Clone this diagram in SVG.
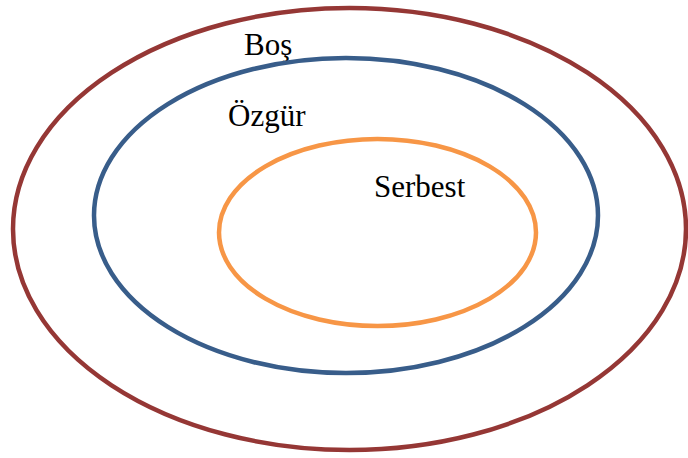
<svg xmlns="http://www.w3.org/2000/svg" width="688" height="458" viewBox="0 0 688 458">
  <style>
    .ring { fill: none; stroke-width: 4.5; }
    text { font-family: "Liberation Serif", "DejaVu Serif", serif; font-size: 31px; fill: #000; }
  </style>
  <rect width="688" height="458" fill="#fff"/>
  <g id="bos">
    <ellipse class="ring" cx="349.5" cy="229" rx="336.5" ry="221" stroke="#953735"/>
    <text x="244" y="55">Boş</text>
  </g>
  <g id="ozgur">
    <ellipse class="ring" cx="346" cy="215.5" rx="252" ry="157.5" stroke="#385D8A"/>
    <text x="228" y="126">Özgür</text>
  </g>
  <g id="serbest">
    <ellipse class="ring" cx="377.5" cy="232.5" rx="158.5" ry="93.5" stroke="#F79646"/>
    <text x="374" y="197">Serbest</text>
  </g>
  <g id="connectors"/>
</svg>
